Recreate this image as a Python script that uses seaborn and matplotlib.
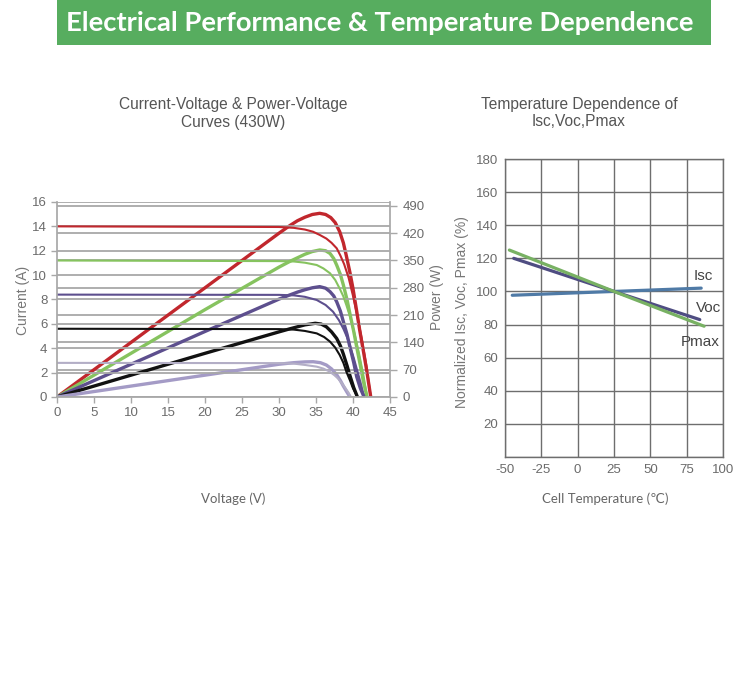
import matplotlib
matplotlib.use("Agg")
import matplotlib.pyplot as plt
import seaborn as sns
import pandas as pd
from matplotlib.patches import Rectangle

# ---------------- data: I-V and P-V curves (430W module) ----------------
irradiance = ["1000", "800", "600", "400", "200"]

iv_v_1000 = [0, 30, 32, 33.5, 34.6, 35.5, 36.4, 37.1, 37.8, 38.3, 38.8, 39.4, 40.0, 40.6, 41.2, 41.8, 42.4]
iv_i_1000 = [14.0, 13.95, 13.88, 13.74, 13.56, 13.3, 13.0, 12.65, 12.2, 11.6, 10.9, 9.8, 8.3, 6.6, 4.7, 2.6, 0]
iv_v_800 = [0, 30, 32, 33.5, 35.1, 36.0, 36.9, 37.6, 38.2, 38.7, 39.1, 39.6, 40.2, 40.8, 41.4, 41.9]
iv_i_800 = [11.2, 11.15, 11.12, 11.02, 10.83, 10.55, 10.15, 9.6, 8.9, 8.25, 7.55, 6.6, 5.2, 3.6, 1.8, 0]
iv_v_600 = [0, 30, 32, 33.5, 35.1, 36.3, 37.3, 38.1, 38.7, 39.2, 39.6, 40.1, 40.6, 41.1, 41.5]
iv_i_600 = [8.4, 8.38, 8.34, 8.22, 7.96, 7.55, 7.0, 6.3, 5.6, 4.9, 4.2, 3.2, 2.1, 1.0, 0]
iv_v_400 = [0, 30, 32, 33.5, 35.1, 36.1, 36.9, 37.6, 38.2, 38.7, 39.1, 39.6, 40.0, 40.6]
iv_i_400 = [5.6, 5.57, 5.53, 5.42, 5.22, 4.92, 4.54, 4.05, 3.45, 2.8, 2.08, 1.35, 0.71, 0]
iv_v_200 = [0, 30, 32, 33.5, 35.1, 36.0, 36.8, 37.5, 38.0, 38.5, 39.0, 39.4, 39.7]
iv_i_200 = [2.8, 2.78, 2.74, 2.63, 2.49, 2.33, 2.1, 1.78, 1.5, 1.12, 0.7, 0.35, 0]

pv_v_1000 = [0, 10, 20, 30, 31.5, 32.5, 33.5, 34.5, 35.5, 36.3, 37.0, 37.6, 38.2, 38.7, 39.1, 39.6, 40.0, 40.5, 40.9, 41.4, 41.85, 42.4]
pv_p_1000 = [0, 140, 280, 420, 440, 452, 461, 468, 471, 468, 460, 447, 424, 395, 362, 318, 278, 220, 172, 118, 68, 0]
pv_v_800 = [0, 10, 20, 30, 31.5, 32.5, 33.5, 34.5, 35.5, 36.3, 36.9, 37.4, 37.8, 38.3, 38.7, 39.2, 39.6, 40.1, 40.5, 41.0, 41.4, 41.9]
pv_p_800 = [0, 112, 224, 333, 348, 357, 366, 373, 377, 375, 368, 355, 338, 314, 287, 249, 212, 168, 128, 80, 40, 0]
pv_v_600 = [0, 10, 20, 30, 31.5, 32.5, 33.5, 34.5, 35.5, 36.3, 36.9, 37.4, 37.8, 38.3, 38.7, 39.2, 39.6, 40.1, 40.5, 41.0, 41.5]
pv_p_600 = [0, 84, 168, 251, 262, 269, 275, 280, 283, 279, 270, 259, 244, 220, 193, 160, 127, 88, 52, 22, 0]
pv_v_400 = [0, 10, 20, 30, 31.5, 32.5, 33.5, 34.9, 35.7, 36.4, 37.1, 37.8, 38.3, 38.7, 39.2, 39.6, 40.1, 40.6]
pv_p_400 = [0, 56, 112, 167, 175, 180, 185, 189, 187, 180, 167, 150, 131, 110, 80, 54, 24, 0]
pv_v_200 = [0, 10, 20, 30, 32, 33.5, 34.6, 35.6, 36.4, 37.1, 37.8, 38.3, 38.7, 39.2, 39.6]
pv_p_200 = [0, 28, 56, 84, 88, 90, 90.5, 88, 82, 72, 57, 42, 28, 12, 0]

iv_colors = ["#c1272d", "#86c35f", "#5d4f8e", "#111111", "#b3aec6"]
pv_colors = ["#c1272d", "#86c35f", "#5d4f8e", "#111111", "#a49bc6"]

current_ticks = [0, 2, 4, 6, 8, 10, 12, 14, 16]
power_ticks = [0, 70, 140, 210, 280, 350, 420, 490]
voltage_ticks = [0, 5, 10, 15, 20, 25, 30, 35, 40, 45]

# ---------------- data: temperature dependence ----------------
temp_isc = [-45, 25, 85]
isc_pct = [97.7, 100, 102]
temp_voc = [-44, 25, 84]
voc_pct = [120, 100, 83]
temp_pmax = [-47, 25, 87]
pmax_pct = [125, 100, 79]
temp_ticks = [-50, -25, 0, 25, 50, 75, 100]
pct_ticks = [20, 40, 60, 80, 100, 120, 140, 160, 180]

# ---------------- build tables ----------------
iv_v = [iv_v_1000, iv_v_800, iv_v_600, iv_v_400, iv_v_200]
iv_i = [iv_i_1000, iv_i_800, iv_i_600, iv_i_400, iv_i_200]
pv_v = [pv_v_1000, pv_v_800, pv_v_600, pv_v_400, pv_v_200]
pv_p = [pv_p_1000, pv_p_800, pv_p_600, pv_p_400, pv_p_200]

iv_df = pd.concat([pd.DataFrame({"V": v, "I": i, "G": g})
                   for v, i, g in zip(iv_v, iv_i, irradiance)], ignore_index=True)
pv_df = pd.concat([pd.DataFrame({"V": v, "P": p, "G": g})
                   for v, p, g in zip(pv_v, pv_p, irradiance)], ignore_index=True)
temp_df = pd.concat([
    pd.DataFrame({"T": temp_isc, "val": isc_pct, "param": "Isc"}),
    pd.DataFrame({"T": temp_voc, "val": voc_pct, "param": "Voc"}),
    pd.DataFrame({"T": temp_pmax, "val": pmax_pct, "param": "Pmax"}),
], ignore_index=True)

# ---------------- figure ----------------
sns.set_theme(style="white")
plt.rcParams["font.family"] = ["Liberation Sans", "DejaVu Sans"]
plt.rcParams["axes.unicode_minus"] = False

W, H = 750, 684
fig = plt.figure(figsize=(W / 100, H / 100), dpi=100)


def fx(x):
    return x / W


def fy(y):
    return 1 - y / H


# header
fig.patches.append(Rectangle((fx(57), fy(45)), fx(711) - fx(57), 45 / H,
                             transform=fig.transFigure, facecolor="#57ad5f",
                             edgecolor="none", zorder=0))
fig.text(fx(380), fy(23), "Electrical Performance & Temperature Dependence",
         color="white", fontsize=19.7, fontweight="bold", family=["Lato", "DejaVu Sans"],
         ha="center", va="center")

tick_col = "#6b6b6b"
grid_col = "#a8a8a8"

# ---------- left chart ----------
rect = [fx(57), fy(397), 333 / W, 195 / H]
ax2 = fig.add_axes(rect)            # power axis (behind)
ax = fig.add_axes(rect)             # current axis (front)
ax.set_zorder(ax2.get_zorder() + 1)
ax.patch.set_visible(False)

sns.lineplot(data=pv_df, x="V", y="P", hue="G", palette=pv_colors, hue_order=irradiance,
             estimator=None, sort=False, legend=False, linewidth=2.4, ax=ax2)
sns.lineplot(data=iv_df, x="V", y="I", hue="G", palette=iv_colors, hue_order=irradiance,
             estimator=None, sort=False, legend=False, linewidth=1.5, ax=ax)

ax.set_xlim(0, 45)
ax.set_ylim(0, 16)
ax2.set_xlim(0, 45)
ax2.set_ylim(0, 500)
ax.set_xticks(voltage_ticks)
ax.set_yticks(current_ticks)
ax2.set_yticks(power_ticks)
ax2.set_xticks([])
ax2.yaxis.tick_right()

for a in (ax, ax2):
    a.set_xlabel("")
    a.set_ylabel("")
    for s in a.spines.values():
        s.set_visible(False)

ax.grid(axis="y", color=grid_col, linewidth=1.3)
ax.set_axisbelow(True)
ax2.grid(axis="y", color=grid_col, linewidth=1.3)
ax2.set_axisbelow(True)
ax.spines["left"].set_visible(True)
ax.spines["left"].set_color(grid_col)
ax.spines["bottom"].set_visible(True)
ax.spines["bottom"].set_color(grid_col)
ax.spines["bottom"].set_linewidth(1.3)
ax2.spines["right"].set_visible(True)
ax2.spines["right"].set_color(grid_col)

ax.tick_params(axis="both", colors=grid_col, labelcolor=tick_col, labelsize=9.5,
               length=4, width=1, direction="out", left=True, bottom=True, pad=3)
ax2.tick_params(axis="y", colors=grid_col, labelcolor=tick_col, labelsize=9.5,
                length=5, width=1, direction="out", right=True, left=False,
                labelright=True, labelleft=False, pad=4)

fig.text(fx(233), fy(104), "Current-Voltage & Power-Voltage", fontsize=11.2,
         color="#555555", ha="center", va="center")
fig.text(fx(233), fy(122), "Curves (430W)", fontsize=11.2,
         color="#555555", ha="center", va="center")
fig.text(fx(233), fy(499), "Voltage (V)", fontsize=9.5, color="#666666",
         ha="center", va="center", family=["Lato", "DejaVu Sans"])
fig.text(fx(23), fy(300), "Current (A)", fontsize=10, color="#777777",
         ha="center", va="center", rotation=90)
fig.text(fx(437), fy(297), "Power (W)", fontsize=10, color="#777777",
         ha="center", va="center", rotation=90)

# ---------- right chart ----------
axt = fig.add_axes([fx(505), fy(457), 218 / W, 298 / H])
sns.lineplot(data=temp_df, x="T", y="val", hue="param",
             palette={"Isc": "#4f7aa6", "Voc": "#4f4d82", "Pmax": "#78b163"},
             hue_order=["Isc", "Voc", "Pmax"], estimator=None, sort=False,
             legend=False, linewidth=2.3, ax=axt)
axt.set_xlim(-50, 100)
axt.set_ylim(0, 180)
axt.set_xticks(temp_ticks)
axt.set_yticks([0] + pct_ticks)
axt.set_yticklabels([""] + [str(t) for t in pct_ticks])
axt.set_xlabel("")
axt.set_ylabel("")
axt.grid(True, color="#6e6e6e", linewidth=1.0)
axt.set_axisbelow(True)
for s in axt.spines.values():
    s.set_color("#6e6e6e")
    s.set_linewidth(1.0)
axt.tick_params(axis="both", length=0, labelsize=9.5, labelcolor=tick_col, pad=5)

for lbl, (xp, yp) in {"Isc": (703, 276), "Voc": (709, 308), "Pmax": (700, 342)}.items():
    fig.text(fx(xp), fy(yp), lbl, fontsize=11, color="#444444", ha="center", va="center")

fig.text(fx(579), fy(104), "Temperature Dependence of", fontsize=11.2,
         color="#555555", ha="center", va="center")
fig.text(fx(579), fy(122), "Isc,Voc,Pmax", fontsize=11.2,
         color="#555555", ha="center", va="center")
fig.text(fx(605), fy(499), "Cell Temperature (\u2103)", fontsize=9.5, color="#666666",
         ha="center", va="center", family=["Lato", "DejaVu Sans"])
fig.text(fx(462), fy(312), "Normalized Isc, Voc, Pmax (%)", fontsize=10, color="#777777",
         ha="center", va="center", rotation=90)

fig.savefig("out.png", dpi=100)
